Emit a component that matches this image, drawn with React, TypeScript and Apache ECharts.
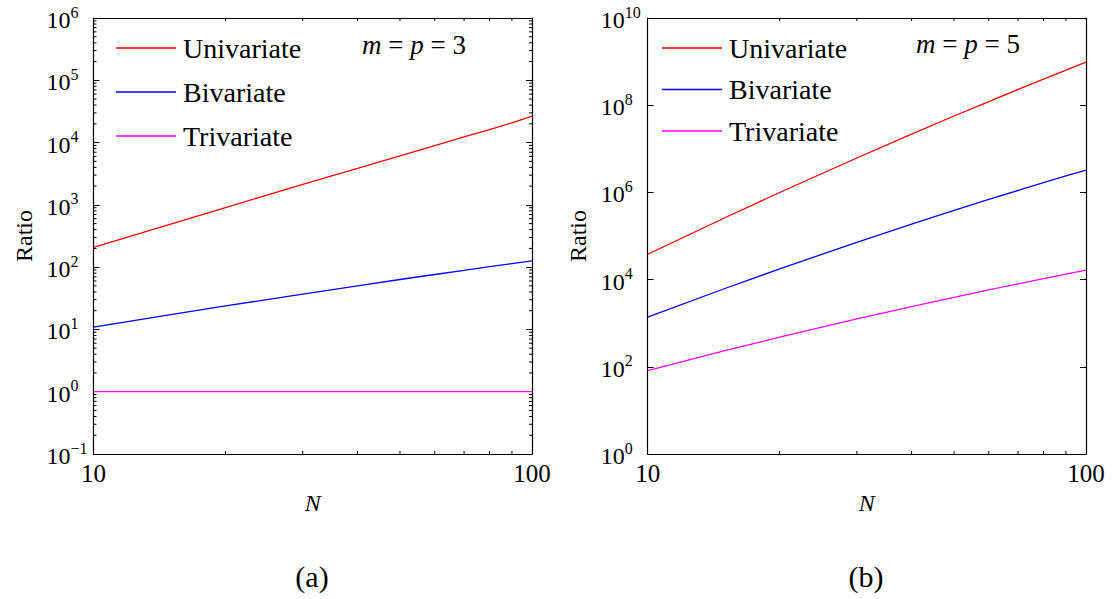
import React, { useEffect, useRef } from "react";
import * as echarts from "echarts";

// Sample sizes (x axis of both panels)
const N = [10, 15, 20, 30, 40, 50, 60, 70, 80, 90, 100];

// Panel (a): m = p = 3
const uniA = [207, 489, 904, 2130, 3850, 6140, 8950, 12300, 16200, 20800, 26500];
const biA = [10.9, 17.3, 23.8, 37.0, 50.2, 63.3, 76.2, 89, 101.7, 114, 126.5];
const triA = [1, 1, 1, 1, 1, 1, 1, 1, 1, 1, 1];

// Panel (b): m = p = 5
const uniB = [38200, 262000, 995000, 6.16e6, 2.17e7, 5.65e7, 1.21e8, 2.3e8, 3.97e8, 6.38e8, 9.75e8];
const biB = [1380, 6250, 17600, 71700, 1.87e5, 3.87e5, 6.89e5, 1.11e6, 1.67e6, 2.38e6, 3.26e6];
const triB = [82, 234, 477, 1250, 2400, 3920, 5780, 7980, 10500, 13300, 16400];

const seriesNames = ["Univariate", "Bivariate", "Trivariate"];
const seriesColors = ["#ff0000", "#0000ff", "#ff00ff"];

// Axis ranges
const xRange = [10, 100];
const yRangeA = [0.1, 1e6];
const yRangeB = [1, 1e10];

// Minor tick positions on the log axes
const xMinor = [20, 30, 40, 50, 60, 70, 80, 90];
const yMinorA: number[] = [];
for (let d = -1; d < 6; d++) {
  for (let k = 2; k <= 9; k++) yMinorA.push(k * Math.pow(10, d));
}

const FONT = "Liberation Serif";

function expLabel(v: number) {
  const e = Math.round(Math.log10(v));
  const s = e < 0 ? "\u2212" + Math.abs(e) : String(e);
  return "{b|10}{s|" + s + "}";
}

const labelRich = {
  b: { fontFamily: FONT, fontSize: 24, color: "#000", lineHeight: 28, verticalAlign: "bottom" },
  s: { fontFamily: FONT, fontSize: 16, color: "#000", lineHeight: 28, verticalAlign: "top" },
};

function xAxes(gridIndex: number) {
  const common = {
    type: "log",
    logBase: 10,
    gridIndex,
    min: xRange[0],
    max: xRange[1],
    splitLine: { show: false },
    axisLine: { onZero: false, lineStyle: { color: "#000", width: 1.2 } },
    axisTick: { inside: true, length: 6, lineStyle: { color: "#000" } },
  };
  return [
    {
      ...common,
      position: "bottom",
      name: "N",
      nameLocation: "middle",
      nameGap: 35,
      nameTextStyle: { fontFamily: FONT, fontSize: 24, fontStyle: "italic", color: "#000" },
      axisLabel: { margin: 7, fontFamily: FONT, fontSize: 25, color: "#000" },
    },
    { ...common, position: "top", axisLabel: { show: false } },
  ];
}

function yAxes(gridIndex: number, range: number[], extra: any) {
  const common = {
    type: "log",
    logBase: 10,
    gridIndex,
    min: range[0],
    max: range[1],
    ...extra,
    splitLine: { show: false },
    axisLine: { onZero: false, lineStyle: { color: "#000", width: 1.2 } },
    axisTick: { inside: true, length: 6, lineStyle: { color: "#000" } },
  };
  return [
    {
      ...common,
      position: "left",
      name: "Ratio",
      nameLocation: "middle",
      nameGap: 58,
      nameTextStyle: { fontFamily: FONT, fontSize: 24, color: "#000" },
      axisLabel: {
        margin: 47,
        align: "left",
        fontFamily: FONT,
        formatter: expLabel,
        rich: labelRich,
      },
    },
    { ...common, position: "right", axisLabel: { show: false } },
  ];
}

function lineSeries(name: string, color: string, values: number[], xi: number, yi: number) {
  return {
    type: "line",
    name,
    xAxisIndex: xi,
    yAxisIndex: yi,
    data: N.map((n, i) => [n, values[i]]),
    showSymbol: false,
    symbol: "none",
    smooth: false,
    lineStyle: { color, width: 1.3 },
    itemStyle: { color },
    z: 3,
  };
}

const tickStyle = { stroke: "#000", lineWidth: 1 };

function xMinorSeries(xi: number, yi: number, yr: number[]) {
  return {
    type: "custom",
    xAxisIndex: xi,
    yAxisIndex: yi,
    silent: true,
    data: xMinor.map((v) => [v, yr[0]]),
    renderItem: (params: any, api: any) => {
      const v = api.value(0);
      const b = api.coord([v, yr[0]]);
      const t = api.coord([v, yr[1]]);
      return {
        type: "group",
        children: [
          { type: "line", shape: { x1: b[0], y1: b[1], x2: b[0], y2: b[1] - 3 }, style: tickStyle },
          { type: "line", shape: { x1: t[0], y1: t[1], x2: t[0], y2: t[1] + 3 }, style: tickStyle },
        ],
      };
    },
  };
}

function yMinorSeries(xi: number, yi: number, values: number[]) {
  return {
    type: "custom",
    xAxisIndex: xi,
    yAxisIndex: yi,
    silent: true,
    data: values.map((v) => [xRange[0], v]),
    renderItem: (params: any, api: any) => {
      const v = api.value(1);
      const l = api.coord([xRange[0], v]);
      const r = api.coord([xRange[1], v]);
      return {
        type: "group",
        children: [
          { type: "line", shape: { x1: l[0], y1: l[1], x2: l[0] + 3, y2: l[1] }, style: tickStyle },
          { type: "line", shape: { x1: r[0], y1: r[1], x2: r[0] - 3, y2: r[1] }, style: tickStyle },
        ],
      };
    },
  };
}

function legend(left: number, top: number, gap: number) {
  return {
    orient: "vertical",
    left,
    top,
    padding: 0,
    icon: "rect",
    itemWidth: 60,
    itemHeight: 1.3,
    itemGap: gap,
    selectedMode: false,
    data: seriesNames,
    textStyle: { fontFamily: FONT, fontSize: 28, color: "#000", padding: [0, 0, 0, 2] },
  };
}

function paramText(x: number, y: number, value: string) {
  return {
    type: "text",
    x,
    y,
    style: {
      text: "{i|m}{r| = }{i|p}{r| = " + value + "}",
      fontFamily: FONT,
      fontSize: 27,
      fill: "#000",
      verticalAlign: "middle",
      align: "left",
      rich: {
        i: { fontFamily: FONT, fontSize: 27, fontStyle: "italic", fill: "#000" },
        r: { fontFamily: FONT, fontSize: 27, fill: "#000" },
      },
    },
  };
}

function caption(x: number, y: number, text: string) {
  return {
    type: "text",
    x,
    y,
    style: {
      text,
      fontFamily: FONT,
      fontSize: 30,
      fill: "#000",
      align: "center",
      verticalAlign: "middle",
    },
  };
}

export default function App() {
  const ref = useRef<HTMLDivElement>(null);

  useEffect(() => {
    if (!ref.current) return;
    const chart = echarts.init(ref.current, undefined, { renderer: "svg" });
    chart.setOption({
      animation: false,
      backgroundColor: "#fff",
      textStyle: { fontFamily: FONT },
      grid: [
        { left: 93.5, top: 18, width: 438.5, height: 436 },
        { left: 647.7, top: 18, width: 438.3, height: 436 },
      ],
      xAxis: [...xAxes(0), ...xAxes(1)],
      yAxis: [...yAxes(0, yRangeA, {}), ...yAxes(1, yRangeB, { interval: 2 })],
      legend: [legend(116, 34, 16), legend(662, 34, 13.5)],
      series: [
        lineSeries(seriesNames[0], seriesColors[0], uniA, 0, 0),
        lineSeries(seriesNames[1], seriesColors[1], biA, 0, 0),
        lineSeries(seriesNames[2], seriesColors[2], triA, 0, 0),
        lineSeries(seriesNames[0], seriesColors[0], uniB, 2, 2),
        lineSeries(seriesNames[1], seriesColors[1], biB, 2, 2),
        lineSeries(seriesNames[2], seriesColors[2], triB, 2, 2),
        xMinorSeries(0, 0, yRangeA),
        yMinorSeries(0, 0, yMinorA),
        xMinorSeries(2, 2, yRangeB),
      ],
      graphic: [
        paramText(362, 45, "3"),
        paramText(916, 44, "5"),
        caption(312, 576, "(a)"),
        caption(866, 576, "(b)"),
      ],
    });
    return () => chart.dispose();
  }, []);

  return (
    <div
      ref={ref}
      style={{ position: "absolute", left: 0, top: 0, width: 1117, height: 599 }}
    />
  );
}
